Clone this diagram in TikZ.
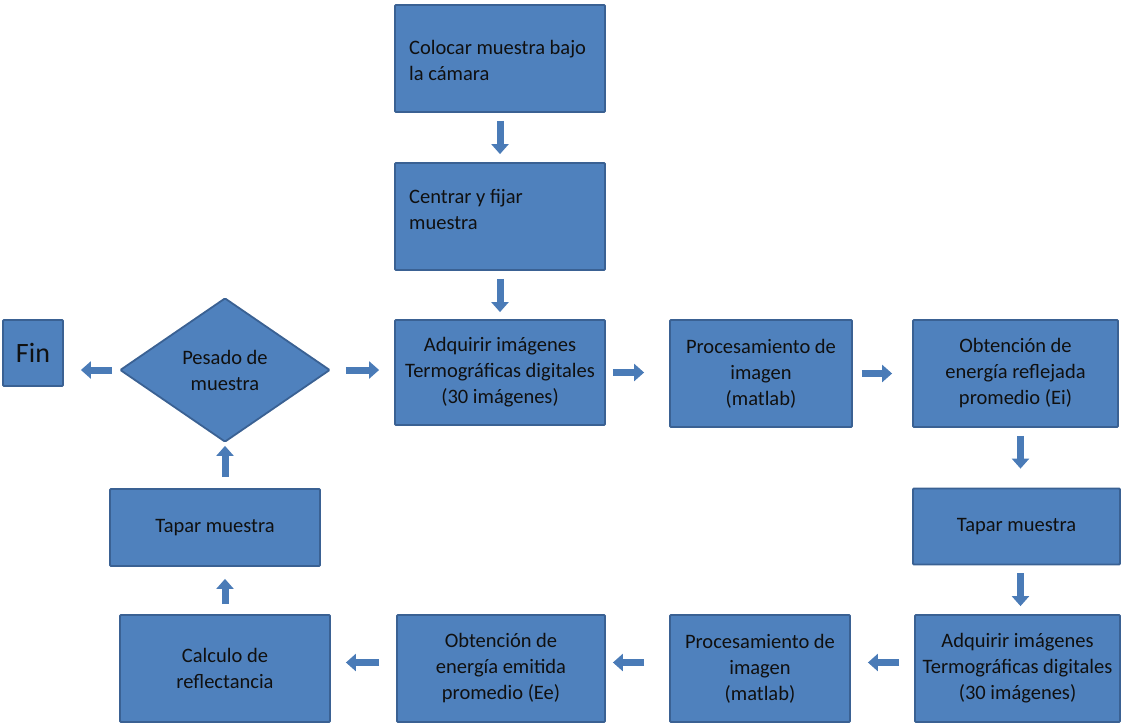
\documentclass[tikz,border=0pt]{standalone}
\usepackage{fontspec}
\setmainfont{Carlito}
\usetikzlibrary{arrows.meta,shapes.geometric}
\definecolor{boxfill}{HTML}{4F81BD}
\definecolor{boxline}{HTML}{3A6193}
\definecolor{arrowc}{HTML}{4A7BB7}
\definecolor{txt}{HTML}{101010}
\tikzset{
  box/.style={draw=boxline, line width=1.8pt, fill=boxfill, rounded corners=1pt,
    text=txt, align=center, inner sep=0pt, font=\fontsize{20.5}{26}\selectfont},
  lefttext/.style={text=txt, align=left, anchor=west, inner sep=0pt,
    font=\fontsize{20.5}{26}\selectfont},
  blk/.style={draw=arrowc, line width=7pt,
    -{Triangle[length=10pt,width=17pt]}}
}
\begin{document}
\begin{tikzpicture}[x=1pt,y=-1pt]
\useasboundingbox (0,0) rectangle (1125,724);
% top column
\node[box, minimum width=210, minimum height=107] (b1) at (500,58.5) {};
\node[lefttext] (t1) at (409,60) {Colocar muestra bajo\\la cámara};
\node[box, minimum width=210, minimum height=107] (b2) at (500,216.5) {};
\node[lefttext] (t2) at (409,209) {Centrar y fijar\\muestra};
% middle row
\node[box, minimum width=210, minimum height=105] (adq1) at (500,372.5) {Adquirir imágenes\\Termográficas digitales\\(30 imágenes)};
\node[box, minimum width=182, minimum height=107] (pro1) at (761,373.5) {Procesamiento de\\imagen\\(matlab)};
\node[box, minimum width=205, minimum height=107] (obt1) at (1015.5,373.5) {Obtención de\\energía reflejada\\promedio (Ei)};
\node[box, diamond, minimum width=210, minimum height=144, aspect=1.46] (pes) at (225,370) {Pesado de\\muestra};
\node[box, minimum width=60, minimum height=66, font=\fontsize{28}{32}\selectfont] (fin) at (33,353) {Fin};
% right column
\node[box, minimum width=207, minimum height=76] (tap2) at (1016.5,526.5) {Tapar muestra};
\node[box, minimum width=205, minimum height=107] (adq2) at (1017.5,668.5) {Adquirir imágenes\\Termográficas digitales\\(30 imágenes)};
% bottom row
\node[box, minimum width=180, minimum height=107] (pro2) at (760,668.5) {Procesamiento de\\imagen\\(matlab)};
\node[box, minimum width=208, minimum height=107] (obt2) at (501,668.5) {Obtención de\\energía emitida\\promedio (Ee)};
\node[box, minimum width=210, minimum height=107] (cal) at (225,668.5) {Calculo de\\reflectancia};
% left column
\node[box, minimum width=210, minimum height=77] (tap1) at (215,527.5) {Tapar muestra};
% arrows
\draw[blk, shorten <=8pt, shorten >=8pt] (b1.south) -- (b2.north);
\draw[blk, shorten <=8pt, shorten >=7pt] (b2.south) -- (adq1.north);
\draw[blk, shorten <=7pt, shorten >=25pt] (adq1.east) -- (adq1.east -| pro1.west);
\draw[blk, shorten <=9pt, shorten >=20pt] (pro1.east) -- (pro1.east -| obt1.west);
\draw[blk, shorten <=8pt, shorten >=19pt] ([xshift=5pt]obt1.south) -- ([xshift=5pt]obt1.south |- tap2.north);
\draw[blk, shorten <=8pt, shorten >=8pt] ([xshift=4pt]tap2.south) -- ([xshift=4pt]tap2.south |- adq2.north);
\draw[blk, shorten <=15pt, shorten >=17pt] ([yshift=6pt]adq2.west) -- ([yshift=6pt]adq2.west -| pro2.east);
\draw[blk, shorten <=25pt, shorten >=7pt] ([yshift=6pt]pro2.west) -- ([yshift=6pt]pro2.west -| obt2.east);
\draw[blk, shorten <=17pt, shorten >=15pt] ([yshift=6pt]obt2.west) -- ([yshift=6pt]obt2.west -| cal.east);
\draw[blk, shorten <=10pt, shorten >=12pt] (cal.north) -- (cal.north |- tap1.south);
\draw[blk, shorten <=11pt, shorten >=3pt] (cal.north |- tap1.north) -- (pes.south);
\draw[blk, shorten <=15pt, shorten >=15pt] (pes.east) -- (pes.east -| adq1.west);
\draw[blk, shorten <=7pt, shorten >=17pt] (pes.west) -- (pes.west -| fin.east);
\end{tikzpicture}
\end{document}
